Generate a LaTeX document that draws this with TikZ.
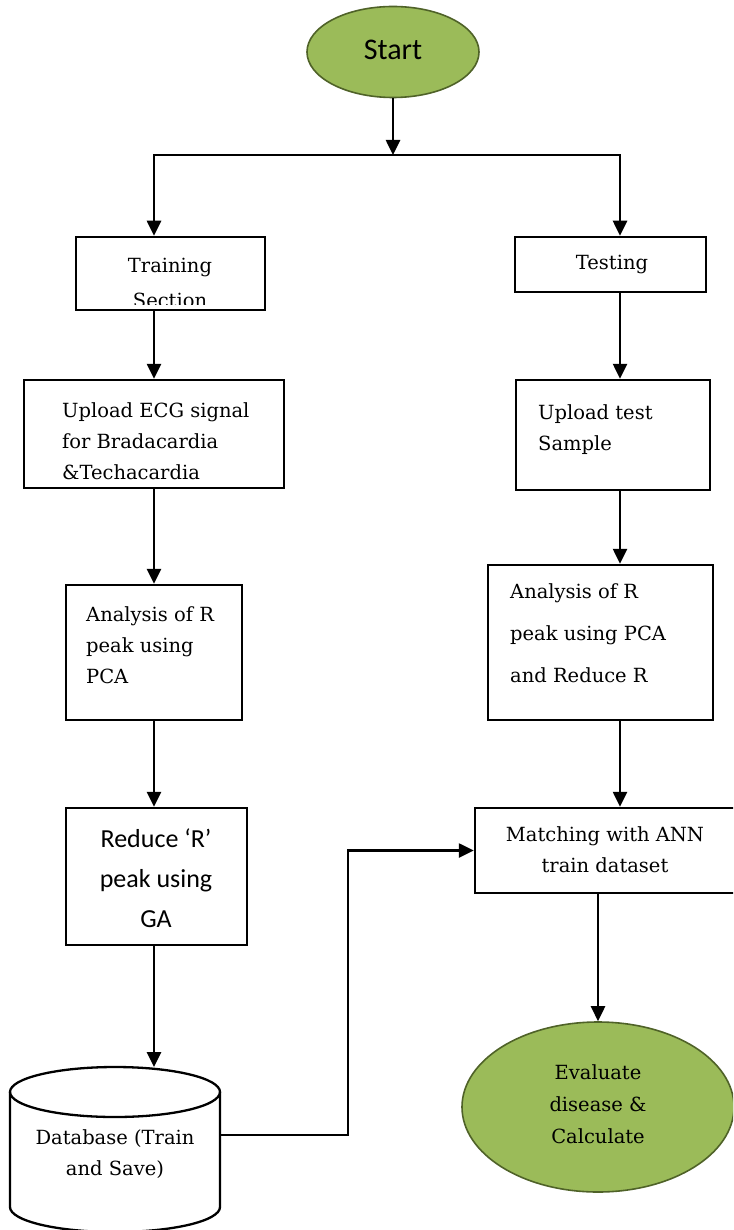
\documentclass[tikz,border=0pt]{standalone}
\usepackage{fontspec}
\setmainfont{DejaVu Serif}
\newfontfamily\calibrifont{Carlito}
\usetikzlibrary{arrows.meta,shapes.geometric}
\definecolor{evfill}{HTML}{9BBB59}
\definecolor{evline}{HTML}{4F6228}
\begin{document}
\begin{tikzpicture}[x=1pt,y=-1pt,
  box/.style={draw, line width=2.5pt, inner sep=0pt},
  term/.style={ellipse, draw=evline, fill=evfill, line width=1.6pt, inner sep=0pt},
  txt/.style={inner sep=0pt, font=\fontsize{19.5}{31}\selectfont},
  arr/.style={line width=2.6pt, -{Triangle[width=14pt,length=15pt]}}]
\clip (0,0) rectangle (733,1230);
\fill[white] (0,0) rectangle (733,1230);
% start
\node[term, minimum width=172pt, minimum height=91pt] (start) at (393,52) {};
\node[inner sep=0pt, font=\calibrifont\fontsize{30}{36}\selectfont] (starttxt) at (393,50) {Start};
\coordinate (split) at (393,155);
\coordinate (colR) at (620,0);
% boxes
\node[box, minimum width=189pt, minimum height=73pt] (train) at (170.5,273.5) {};
\node[box, minimum width=191pt, minimum height=55pt] (test) at (610.5,264.5) {};
\node[box, minimum width=260pt, minimum height=108pt] (upl) at (154,434) {};
\node[box, minimum width=194pt, minimum height=110pt] (uptest) at (613,435) {};
\node[box, minimum width=176pt, minimum height=135pt] (anL) at (154,652.5) {};
\node[box, minimum width=225pt, minimum height=155pt] (anR) at (600.5,642.5) {};
\node[box, minimum width=181pt, minimum height=137pt] (red) at (156.5,876.5) {};
\node[box, minimum width=270pt, minimum height=85pt] (match) at (610,850.5) {};
\node[term, minimum width=272pt, minimum height=170pt] (eval) at (598,1107) {};
% database cylinder
\draw[line width=2.3pt, fill=white] (10,1092) -- (10,1207) arc[start angle=180, end angle=360, x radius=105pt, y radius=25pt] -- (220,1092);
\draw[line width=2.3pt] (115,1092) ellipse[x radius=105pt, y radius=25pt];
\coordinate (dbtop) at (154,1067);
\coordinate (dbE) at (220,1135);
% texts
\begin{scope}
\clip (train.north west) rectangle ([yshift=7pt]train.south east);
\node[txt, align=center, font=\fontsize{19.5}{35}\selectfont] (traintxt) at (170,283) {Training\\Section};
\end{scope}
\node[txt] (testtxt) at (612,264) {Testing};
\node[txt, align=left, anchor=west] (upltxt) at (62,441) {Upload ECG signal\\for Bradacardia\\\&Techacardia};
\node[txt, align=left, anchor=west] (anLtxt) at (86,645) {Analysis of R\\peak using\\PCA};
\node[inner sep=0pt, align=center, font=\calibrifont\fontsize{26}{40}\selectfont] (redtxt) at (156,878) {Reduce ‘R’\\peak using\\GA};
\node[txt, align=center] (dbtxt) at (115,1154) {Database (Train\\and Save)};
\node[txt, align=left, anchor=west] (uptesttxt) at (538,430) {Upload test\\Sample};
\node[txt, align=left, anchor=west, font=\fontsize{19.5}{42}\selectfont] (anRtxt) at (510,633) {Analysis of R\\peak using PCA\\and Reduce R};
\node[txt, align=center] (matchtxt) at (605,850) {Matching with ANN\\train dataset};
\node[txt, align=center, font=\fontsize{19.5}{32}\selectfont] (evaltxt) at (598,1104) {Evaluate\\disease \&\\Calculate};
% connectors
\draw[arr] (start.south) -- (split);
\draw[arr] (split) -| (train.north -| upl.north);
\draw[arr] (split) -| (test.north -| colR);
\draw[arr] (train.south -| upl.north) -- (upl.north);
\draw[arr] (upl.south) -- (anL.north);
\draw[arr] (anL.south) -- (anL.south |- red.north);
\draw[arr] (red.south -| dbtop) -- (dbtop);
\draw[arr] (dbE) -- ++(128,0) |- (match.west);
\draw[arr] (test.south -| colR) -- (uptest.north -| colR);
\draw[arr] (uptest.south -| colR) -- (anR.north -| colR);
\draw[arr] (anR.south -| colR) -- (match.north -| colR);
\draw[arr] (match.south -| eval.north) -- (eval.north);
\end{tikzpicture}
\end{document}
